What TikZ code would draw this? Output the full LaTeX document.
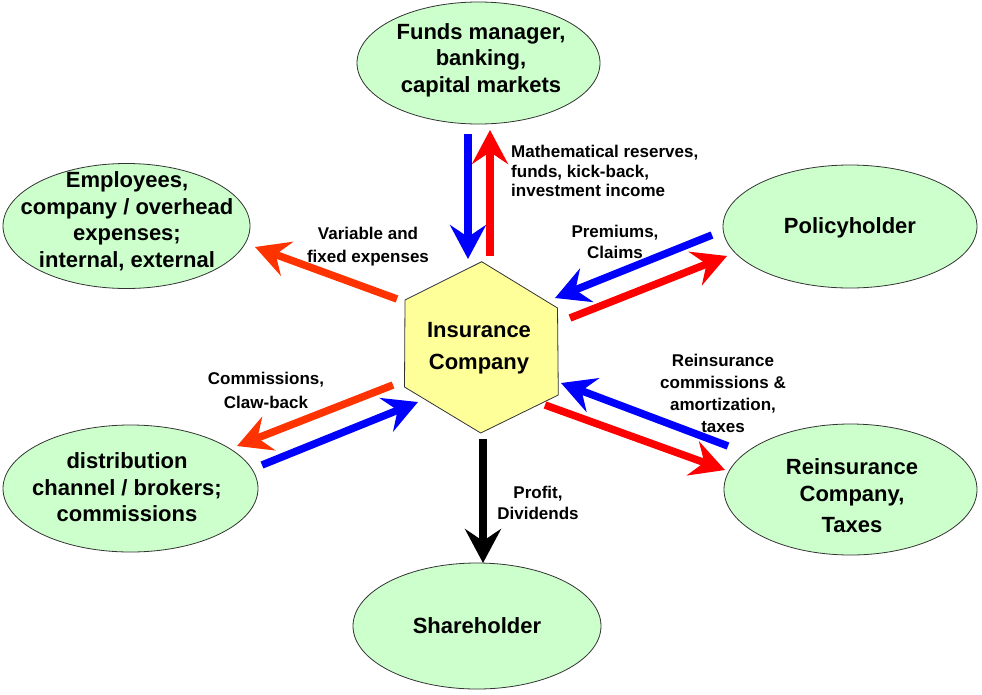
\documentclass[tikz,border=0pt]{standalone}
\usepackage{fontspec}
\setmainfont{Liberation Sans}
\usetikzlibrary{shapes.geometric,arrows.meta}
\definecolor{ellfill}{HTML}{CCFFCC}
\definecolor{hexfill}{HTML}{FFFF99}
\definecolor{flowblue}{HTML}{0000FF}
\definecolor{flowred}{HTML}{FF0000}
\definecolor{floworange}{HTML}{FF3300}
\newcommand\mainfont{\fontsize{22}{26.5}\selectfont\bfseries}
\newcommand\labfont[1]{\fontsize{17}{#1}\selectfont\bfseries}
\begin{document}
\begin{tikzpicture}[x=1pt,y=-1pt,
  ellbox/.style={ellipse,draw=black!80,line width=0.8pt,fill=ellfill,inner sep=0pt},
  hexbox/.style={draw=black!80,line width=0.8pt,fill=hexfill},
  maintext/.style={font=\mainfont,align=center,inner sep=0pt},
  labtext/.style={align=center,inner sep=0pt},
  flow/.style={line width=7.5pt,-{Stealth[length=34pt,width=36pt,inset=12pt]}},
]
\useasboundingbox (0,0) rectangle (982,694);

% ellipses
\node[ellbox,minimum width=243pt,minimum height=122pt] (fund) at (478.5,63) {};
\node[ellbox,minimum width=247pt,minimum height=125pt] (emp) at (126.5,226) {};
\node[ellbox,minimum width=254pt,minimum height=123pt] (pol) at (850,226.5) {};
\node[ellbox,minimum width=253pt,minimum height=131pt] (reins) at (850.5,489.5) {};
\node[ellbox,minimum width=255pt,minimum height=127pt] (dist) at (130.5,488.5) {};
\node[ellbox,minimum width=248pt,minimum height=126pt] (share) at (477,626) {};

% hexagon
\coordinate (h1) at (481.7,261.7);
\coordinate (h2) at (557.5,308);
\coordinate (h3) at (558.3,395);
\coordinate (h4) at (480.7,433);
\coordinate (h5) at (404.5,387);
\coordinate (h6) at (405,300);
\draw[hexbox] (h1) -- (h2) -- (h3) -- (h4) -- (h5) -- (h6) -- cycle;

% main texts
\node[maintext] (tfund) at (481,60) {Funds manager,\\banking,\\capital markets};
\node[maintext] (temp) at (127,221) {Employees,\\company / overhead\\expenses;\\internal, external};
\node[maintext] (tpol) at (850,227.5) {Policyholder};
\node[maintext] (treins) at (852,495.5) {Reinsurance\\Company,\\[4.5pt]Taxes};
\node[maintext] (tdist) at (127,487.5) {distribution\\channel / brokers;\\commissions};
\node[maintext] (tshare) at (477,625.5) {Shareholder};
\node[maintext] (tins) at (479,348.5) {Insurance\\[5.5pt]Company};

% labels
\node[labtext,align=left,anchor=west,font=\labfont{19.8}] (lmath) at (511,171) {Mathematical reserves,\\funds, kick-back,\\investment income};
\node[labtext,font=\labfont{23.4}] (lvar) at (368,246.6) {Variable and\\fixed expenses};
\node[labtext,font=\labfont{21}] (lprem) at (615,241.6) {Premiums,\\Claims};
\node[labtext,font=\labfont{22}] (lre) at (723,393.5) {Reinsurance\\commissions \&\\amortization,\\taxes};
\node[labtext,font=\labfont{23.3}] (lcom) at (266,390.5) {Commissions,\\Claw-back};
\node[labtext,font=\labfont{21.7}] (lprof) at (538,503) {Profit,\\Dividends};

% arrow end points
\coordinate (a1s) at (468,134);   \coordinate (a1e) at (468,259);
\coordinate (a2s) at (490,256);   \coordinate (a2e) at (490,130);
\coordinate (a3s) at (397,299);   \coordinate (a3e) at (255,247);
\coordinate (a4s) at (712,235);   \coordinate (a4e) at (555,298);
\coordinate (a5s) at (570,318);   \coordinate (a5e) at (727,256);
\coordinate (a6s) at (728,446);   \coordinate (a6e) at (561,383);
\coordinate (a7s) at (545,405);   \coordinate (a7e) at (725,470);
\coordinate (a8s) at (393,385);   \coordinate (a8e) at (237,446);
\coordinate (a9s) at (262,465);   \coordinate (a9e) at (418,402);
\coordinate (a10s) at (483,439);  \coordinate (a10e) at (483,563);

\draw[flow,flowblue] (a1s) -- (a1e);
\draw[flow,flowred] (a2s) -- (a2e);
\draw[flow,floworange] (a3s) -- (a3e);
\draw[flow,flowblue] (a4s) -- (a4e);
\draw[flow,flowred] (a5s) -- (a5e);
\draw[flow,flowblue] (a6s) -- (a6e);
\draw[flow,flowred] (a7s) -- (a7e);
\draw[flow,floworange] (a8s) -- (a8e);
\draw[flow,flowblue] (a9s) -- (a9e);
\draw[flow,black] (a10s) -- (a10e);
\end{tikzpicture}
\end{document}
